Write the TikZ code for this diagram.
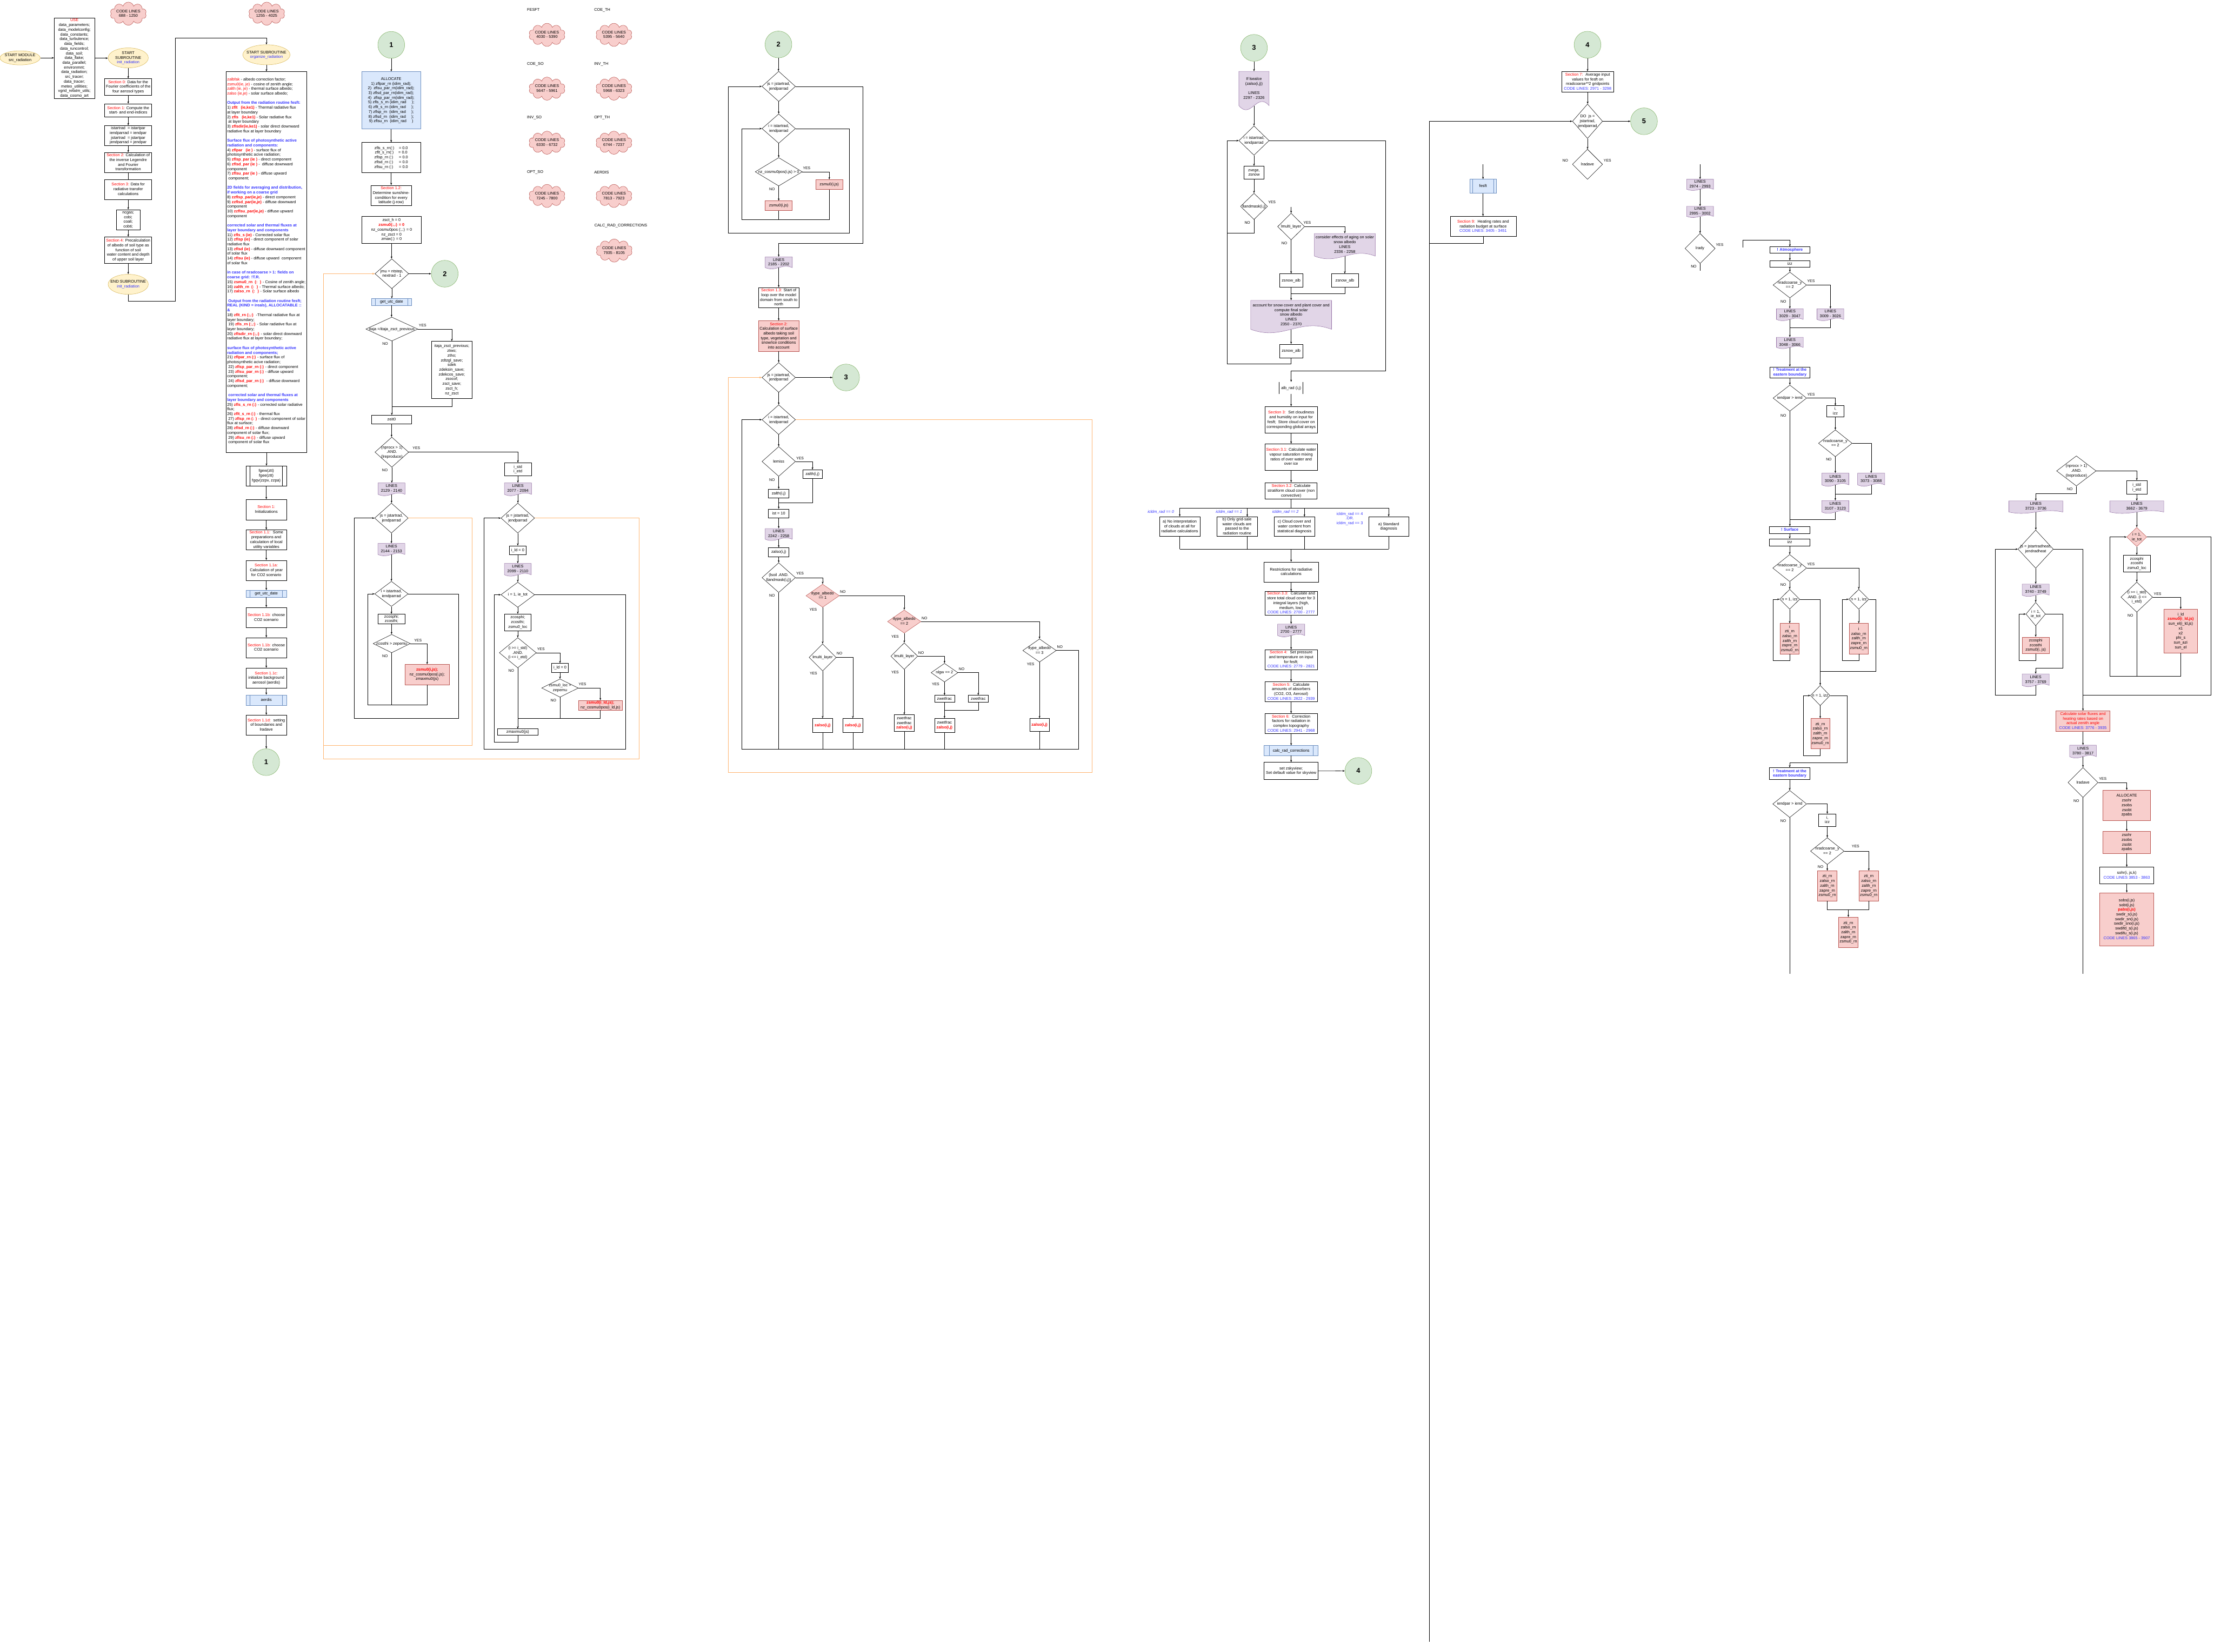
\documentclass[tikz,border=0pt]{standalone}
\usepackage{fontspec}
\setmainfont{Liberation Sans}
\usetikzlibrary{shapes.geometric,shapes.symbols,arrows.meta}
\definecolor{ellF}{HTML}{FFF2CC}\definecolor{ellD}{HTML}{D6B656}
\definecolor{redF}{HTML}{F8CECC}\definecolor{redD}{HTML}{B85450}
\definecolor{blueF}{HTML}{DAE8FC}\definecolor{blueD}{HTML}{6C8EBF}
\definecolor{purF}{HTML}{E1D5E7}\definecolor{purD}{HTML}{9673A6}
\definecolor{grnF}{HTML}{D5E8D4}\definecolor{grnD}{HTML}{82B366}
\definecolor{orgC}{HTML}{FFB570}
\definecolor{secred}{HTML}{FF0000}
\definecolor{tblue}{HTML}{3333FF}
\newcommand\dt[1]{\smash{\makebox[0pt]{\raisebox{-2.4pt}{\begin{tabular}{@{}c@{}}#1\end{tabular}}}}}
\newcommand\sred[1]{\textcolor{secred}{#1}}
\newcommand\srb[1]{\textcolor{secred}{\bfseries #1}}
\newcommand\tb[1]{\textcolor{tblue}{#1}}
\newcommand\hb[1]{\textcolor{tblue}{\bfseries #1}}
\newcommand\ib[1]{\textcolor{tblue}{\itshape #1}}
\newcommand\docsh[6]{%
 \pgfmathsetmacro\dxL{#2-#4/2}\pgfmathsetmacro\dxR{#2+#4/2}%
 \pgfmathsetmacro\dyT{#3-#5/2}\pgfmathsetmacro\dyE{#3+#5/2-0.14*#5}%
 \pgfmathsetmacro\cAx{#2-0.1*#4}\pgfmathsetmacro\cAy{#3+#5/2+0.22*#5}%
 \pgfmathsetmacro\cBx{#2+0.1*#4}\pgfmathsetmacro\cBy{#3+#5/2-0.5*#5}%
 \pgfmathsetmacro\dyC{#3-0.07*#5}\pgfmathsetmacro\dhh{0.86*#5}%
 \filldraw[docst] (\dxL,\dyT) -- (\dxR,\dyT) -- (\dxR,\dyE) .. controls (\cBx,\cBy) and (\cAx,\cAy) .. (\dxL,\dyE) -- cycle;
 \node[docn={#4}{\dhh}] (#1) at (#2,\dyC) {\dt{#6}};}
\newcommand\sublines[3][black]{\draw[#1] ([xshift=#3mm]#2.north west) -- ([xshift=#3mm]#2.south west);\draw[#1] ([xshift=-#3mm]#2.north east) -- ([xshift=-#3mm]#2.south east);}
\newcommand\vc[2]{\draw[ar] (#1.south) -- (#1.south |- #2.north);}
\newcommand\vl[2]{\draw (#1.south) -- (#1.south |- #2.north);}
\tikzset{
 base/.style={font=\fontsize{8}{9.5}\selectfont, inner sep=0pt},
 bx/.style 2 args={base, draw, rectangle, minimum width=#1mm, minimum height=#2mm},
 rbx/.style 2 args={bx={#1}{#2}, draw=redD, fill=redF},
 bbx/.style 2 args={bx={#1}{#2}, draw=blueD, fill=blueF},
 dia/.style 2 args={base, draw, diamond, minimum width=#1mm, minimum height=#2mm},
 rdia/.style 2 args={dia={#1}{#2}, draw=redD, fill=redF},
 ell/.style 2 args={base, draw=ellD, fill=ellF, ellipse, minimum width=#1mm, minimum height=#2mm},
 circ/.style={base, circle, draw=grnD, fill=grnF, minimum size=19mm, font=\fontsize{14}{15}\selectfont\bfseries},
 cld/.style={base, cloud, cloud puffs=10, aspect=1.6, draw=redD, fill=redF, minimum width=25.7mm, minimum height=16.4mm},
 docn/.style 2 args={base, minimum width=#1mm, minimum height=#2mm},
 docst/.style={draw=purD, fill=purF},
 yn/.style={base, font=\fontsize{7.5}{9}\selectfont},
 ttl/.style={base, anchor=west},
 ar/.style={draw, -{Stealth[length=1.6mm,width=1.2mm]}},
 org/.style={draw=orgC, line width=1.1pt},
}
\begin{document}
\begin{tikzpicture}[x=1mm,y=-1mm,line width=0.6pt]
\fill[white] (0,0) rectangle (1568,1170);
\useasboundingbox (0,0) rectangle (1568,1170);
%================ column 0 : init_radiation
\node[ell={28.5}{10}] (startmod) at (14.2,41) {\dt{START MODULE\\src\_radiation}};
\node[bx={28.7}{57.2}] (use) at (52.7,41.2) {\dt{\sred{USE}\\data\_parameters;\\data\_modelconfig;\\data\_constants;\\data\_turbulence;\\data\_fields;\\data\_runcontrol;\\data\_soil;\\data\_flake;\\data\_parallel;\\environmnt;\\data\_radiation;\\src\_tracer;\\data\_tracer;\\meteo\_utilities;\\vgrid\_refatm\_utils;\\data\_cosmo\_art}};
\node[cld] (cla) at (90.9,9.7) {\dt{CODE LINES\\688 - 1250}};
\node[cld] (clb) at (188.9,9.7) {\dt{CODE LINES\\1255 - 4025}};
\node[ell={28.5}{14.2}] (initS) at (90.8,41) {\dt{START\\SUBROUTINE\\\tb{init\_radiation}}};
\node[bx={33.3}{11.7}] (szero) at (90.8,61.5) {\dt{\sred{Section 0:} Data for the\\Fourier coefficients of the\\four aerosol types}};
\node[bx={33.3}{9.4}] (sone) at (90.8,78.2) {\dt{\sred{Section 1:} Compute the\\start- and end-indices}};
\node[bx={33.3}{14.2}] (ist) at (90.8,96) {\dt{istartrad \ = istartpar\\iendparrad = iendpar\\jstartrad \ = jstartpar\\jendparrad = jendpar}};
\node[bx={33.3}{14.2}] (stwo) at (90.8,115.1) {\dt{\sred{Section 2:} Calculation of\\the inverse Legendre\\and Fourier\\transformation}};
\node[bx={33.3}{14.2}] (sthree) at (90.8,134.2) {\dt{\sred{Section 3:} Data for\\radiative transfer\\calculations}};
\node[bx={16.7}{14.3}] (ncg) at (90.8,155.6) {\dt{ncgas;\\cobi;\\coali;\\cobti;}};
\node[bx={33.3}{18.9}] (sfour) at (90.8,177.2) {\dt{\sred{Section 4:} Precalculation\\of albedo of soil type as\\function of soil\\water content and depth\\of upper soil layer}};
\node[ell={28.5}{14.2}] (initE) at (90.8,201.4) {\dt{END SUBROUTINE\\\tb{init\_radiation}}};
\draw[ar] (startmod.east) -- (startmod.east -| use.west);
\draw[ar] (use.east) -- (use.east -| initS.west);
\vc{initS}{szero}\vc{szero}{sone}\vc{sone}{ist}\vc{ist}{stwo}\vl{stwo}{sthree}\vc{sthree}{ncg}\vc{ncg}{sfour}\vc{sfour}{initE}
%================ column 1 : organize_radiation
\node[ell={33.5}{14.2}] (orgS) at (188.7,38.8) {\dt{START SUBROUTINE\\\tb{organize\_radiation}}};
\draw[ar] (initE.south) -- (90.8,213.2) -- (124.2,213.2) -- (124.2,26.8) -- (188.7,26.8) -- (orgS.north);
\node[bx={57.2}{269.8}] (big) at (188.7,185.6) {};
\node[base, align=left, anchor=north west] (bigtxt) at (160.8,55.0) {%
\sred{zalbfak} - albedo correction factor;\\
\sred{zsmu0(ie, je)} - cosine of zenith angle;\\
\sred{zalth (ie, je)} - thermal surface albedo;\\
\sred{zalso (ie,je)} - solar surface albedo;\\[9.5pt]
\hb{Output from the radiation routine fesft:}\\
1) \srb{zflt \ \ (ie,ke1)} - Thermal radiative flux\\
at layer boundary\\
2) \srb{zfls \ \ (ie,ke1)} - Solar radiative flux\\
\ at layer boundary\\
3) \srb{zflsdir(ie,ke1)} - solar direct downward\\
radiative flux at layer boundary\\[9.5pt]
\hb{Surface flux of photosynthetic active}\\
\hb{radiation and components:}\\
4) \srb{zflpar \ \ (ie )} - surface flux of\\
photosynthetic acive radiation;\\
5) \srb{zflsp\_par (ie )} - direct component\\
6) \srb{zflsd\_par (ie )} - \ diffuse downward\\
component\\
7) \srb{zflsu\_par (ie )} - diffuse upward\\
\ component;\\[9.5pt]
\hb{2D fields for averaging and distribution,}\\
\hb{if working on a coarse grid}\\
8) \srb{zzflsp\_par(ie,je)} - direct component\\
9) \srb{zzflsd\_par(ie,je)} - diffuse downward\\
component\\
10) \srb{zzflsu\_par(ie,je)} - diffuse upward\\
component\\[9.5pt]
\hb{corrected solar and thermal fluxes at}\\
\hb{layer boundary and components}\\
11) \srb{zfls\_s (ie)} - Corrected solar flux\\
12) \srb{zflsp (ie)} - direct component of solar\\
radiative flux\\
13) \srb{zflsd (ie)} - diffuse downward component\\
of solar flux\\
14) \srb{zflsu (ie)} - diffuse upward \ component\\
of solar flux\\[9.5pt]
\hb{in case of nradcoarse > 1: fields on}\\
\hb{coarse grid: !T.R.}\\
15) \srb{zsmu0\_rn \ (: \ )} - Cosine of zenith angle;\\
16) \srb{zalth\_rn \ (: \ )} - Thermal surface albedo;\\
17) \srb{zalso\_rn \ (: \ )} - Solar surface albedo\\[9.5pt]
\ \hb{Output from the radiation routine fesft;}\\
\hb{REAL (KIND = ireals), ALLOCATABLE ::}\\
\hb{\&}\\
18) \srb{zflt\_rn (:,:)} \ -Thermal radiative flux at\\
layer boundary;\\
\ 19) \srb{zfls\_rn (:,:)} - Solar radiative flux at\\
layer boundary;\\
20) \srb{zflsdir\_rn (:,:)} - solar direct downward\\
radiative flux at layer boundary;\\[9.5pt]
\hb{surface flux of photosynthetic active}\\
\hb{radiation and components;}\\
21) \srb{zflpar\_rn (:)} - surface flux of\\
photosynthetic acive radiation;\\
\ 22) \srb{zflsp\_par\_rn (:)} - direct component\\
\ 23) \srb{zflsu\_par\_rn (:)} - diffuse upward\\
component;\\
\ 24) \srb{zflsd\_par\_rn (:)} \ - diffuse downward\\
component;\\[9.5pt]
\ \hb{corrected solar and thermal fluxes at}\\
\hb{layer boundary and components}\\
25) \srb{zfls\_s\_rn (:)} - corrected solar radiative\\
flux;\\
26) \srb{zflt\_s\_rn (:)} - thermal flux\\
\ 27) \srb{zflsp\_rn (: )} - direct component of solar\\
flux at surface;\\
28) \srb{zflsd\_rn (:)} - diffuse downward\\
component of solar flux;\\
\ 29) \srb{zflsu\_rn (:)} - diffuse upward\\
\ component of solar flux};
\vc{orgS}{big}
\node[bx={28.6}{14.2}] (fgew) at (188.6,337.1) {\dt{fgew(ztt)\\fgee(ztt)\\fgqv(zzpv, zzpa)}};
\sublines{fgew}{2.9}
\node[bx={28.6}{14.4}] (sinit) at (188.6,361) {\dt{\sred{Section 1:}\\Initializations}};
\node[bx={28.6}{14.2}] (sprep) at (188.6,382.4) {\dt{\sred{Section 1.1:} \ Some\\preparations and\\calculation of local\\utility variables}};
\node[bx={28.6}{14.2}] (syear) at (188.6,404) {\dt{\sred{Section 1.1a:}\\Calculation of year\\for CO2 scenario}};
\node[bbx={28.6}{4.8}] (gudA) at (188.6,420.6) {\dt{get\_utc\_date}};
\sublines[blueD]{gudA}{2.9}
\node[bx={28.6}{14.2}] (scoA) at (188.6,437.4) {\dt{\sred{Section 1.1b:} choose\\CO2 scenario}};
\node[bx={28.6}{14.2}] (scoB) at (188.6,458.8) {\dt{\sred{Section 1.1b:} choose\\CO2 scenario}};
\node[bx={28.6}{14.2}] (saer) at (188.6,480.3) {\dt{\sred{Section 1.1c:}\\initialize background\\aerosol (aerdis)}};
\node[bbx={28.6}{7.3}] (aer) at (188.6,495.9) {\dt{aerdis}};
\sublines[blueD]{aer}{2.9}
\node[bx={28.6}{14.2}] (sbnd) at (188.6,513.6) {\dt{\sred{Section 1.1d:} \ setting\\of boundaries and\\lradave}};
\node[circ] (conea) at (188.5,539.9) {1};
\vc{big}{fgew}\vc{fgew}{sinit}\vc{sinit}{sprep}\vc{sprep}{syear}\vc{syear}{gudA}\vc{gudA}{scoA}\vc{scoA}{scoB}\vc{scoB}{saer}\vc{saer}{aer}\vc{aer}{sbnd}\vc{sbnd}{conea}
%================ column 2 : section 1.2
\node[circ] (coneb) at (277.1,31.8) {1};
\node[bbx={41.5}{40.5}] (alloc) at (277.05,71) {\dt{ALLOCATE\\1) zflpar\_rn (idim\_rad);\\2) \ zflsu\_par\_rn(idim\_rad);\\3) zflsd\_par\_rn(idim\_rad);\\4) \ zflsp\_par\_rn(idim\_rad);\\5) zfls\_s\_rn (idim\_rad \ \ \ \ );\\6) zflt\_s\_rn (idim\_rad \ \ \ \ );\\7) zflsp\_rn \ (idim\_rad \ \ \ \ );\\8) zflsd\_rn \ (idim\_rad \ \ \ \ );\\9) zflsu\_rn \ (idim\_rad \ \ \ \ )}};
\node[bx={41.5}{21.3}] (zfls) at (277.05,111.6) {\dt{zfls\_s\_rn(:) \ \ \ = 0.0\\zflt\_s\_rn(:) \ \ \ = 0.0\\zflsp\_rn (:) \ \ \ \ = 0.0\\zflsd\_rn (:) \ \ \ \ = 0.0\\zflsu\_rn (:) \ \ \ \ = 0.0}};
\node[bx={28.6}{14.3}] (stwelve) at (277.05,138.4) {\dt{\sred{Section 1.2:}\\Determine sunshine-\\condition for every\\latitude (j-row)}};
\node[bx={42.2}{19.2}] (zsct) at (277.3,162.8) {\dt{zsct\_h = 0\\\srb{zsmu0(:,:) = 0}\\nz\_cosmu0pos (:,:) = 0\\nz\_zsct = 0\\zmax(:) = 0}};
\node[dia={23.9}{21.1}] (jmu) at (277.5,193.9) {\dt{jmu = ntstep,\\nextrad - 1}};
\node[circ] (ctwoa) at (315,193.9) {2};
\node[bbx={28.6}{4.9}] (gudB) at (277.3,213.9) {\dt{get\_utc\_date}};
\sublines[blueD]{gudB}{2.9}
\node[dia={36.8}{16.9}] (itaja) at (277.5,233.1) {\dt{itaja =/itaja\_zsct\_previous}};
\node[bx={28.8}{40.5}] (itbox) at (320,262) {\dt{itaja\_zsct\_previous;\\ztwo;\\ztho;\\zdtzgl\_save;\\sdek\\zdeksin\_save;\\zdekcos\_save;\\zsocof;\\zsct\_save;\\zsct\_h;\\nz\_zsct}};
\node[bx={28.6}{6}] (zeit) at (277.3,297.1) {\dt{zeit0}};
\node[dia={23.9}{21.3}] (npx) at (277.5,320.3) {\dt{(nprocx > 1)\\.AND.\\(lreproduce)}};
\node[bx={19.1}{9.2}] (istd) at (366.8,332.4) {\dt{i\_std\\i\_etd}};
\docsh{Lta}{277.3}{346.8}{19.2}{9.4}{LINES\\2129 - 2140}
\docsh{Ltb}{366.8}{346.8}{19.2}{9.4}{LINES\\2077 - 2094}
\node[dia={23.8}{21.2}] (jsA) at (277.2,367) {\dt{js = jstartrad,\\jendparrad}};
\docsh{Ltc}{277.2}{389.5}{19.2}{9.1}{LINES\\2144 - 2153}
\node[dia={23.7}{17.8}] (iA) at (277.2,420.7) {\dt{i = istartrad,\\iendparrad}};
\node[bx={19.1}{7.1}] (zcA) at (277.3,438.5) {\dt{zcosphi;\\zcosthi;}};
\node[dia={26.3}{13}] (zcdA) at (277.4,455.9) {\dt{zcosthi > zepemu}};
\node[rbx={31.1}{14.3}] (rA) at (302.5,477.8) {\dt{\srb{zsmu0(i,js);}\\nz\_cosmu0pos(i,js);\\zmaxmu0(js)}};
\node[dia={23.8}{21.2}] (jsB) at (366.7,367) {\dt{js = jstartrad,\\jendparrad}};
\node[bx={11.9}{6.2}] (ildA) at (366.7,389.7) {\dt{i\_ld = 0}};
\docsh{Ltd}{366.7}{403.8}{19}{9.3}{LINES\\2099 - 2110}
\node[dia={23.8}{17.8}] (iB) at (366.7,421.3) {\dt{i = 1, ie\_tot}};
\node[bx={19}{11.7}] (zcB) at (366.7,440.8) {\dt{zcosphi;\\zcosthi;\\zsmu0\_loc}};
\node[dia={26.2}{21.4}] (istdd) at (366.7,462.4) {\dt{(i >= i\_std)\\.AND.\\(i <= i\_etd)}};
\node[bx={11.9}{6.4}] (ildB) at (396.6,473.1) {\dt{i\_ld = 0}};
\node[dia={25.9}{12.9}] (zlocd) at (396.6,487.4) {\dt{zsmu0\_loc >\\zepemu}};
\node[rbx={30.9}{6.9}] (rB) at (425.2,499.6) {\dt{\srb{zsmu0(i\_ld,js);}\\nz\_cosmu0pos(i\_ld,js)}};
\node[bx={28.6}{4.6}] (zmx) at (366.7,518.6) {\dt{zmaxmu0(js)}};
\vc{coneb}{alloc}\vc{alloc}{zfls}\vc{zfls}{stwelve}\vc{zsct}{jmu}
\draw[ar] (jmu.east) -- (ctwoa.west);
\vc{jmu}{gudB}\vc{gudB}{itaja}
\draw[ar] (itaja.east) -| (itbox.north);
\vc{itaja}{zeit}
\draw (itbox.south) |- (277.5,288.1);
\vc{zeit}{npx}
\draw[ar] (npx.east) -| (istd.north);
\vc{npx}{Lta}\vc{istd}{Ltb}\vc{Lta}{jsA}\vc{Ltb}{jsB}
\vc{jsA}{Ltc}\vc{Ltc}{iA}\vc{iA}{zcA}\vc{zcA}{zcdA}
\draw[ar] (zcdA.east) -| (rA.north);
\draw (zcdA.south) -- (277.4,499.4);
\draw[ar] (rA.south) -- (302.5,499.4) -- (260.3,499.4) -- (260.3,420.7) -- (iA.west);
\draw[ar] (iA.east) -- (324.6,420.7) -- (324.6,508.9) -- (250.7,508.9) -- (250.7,367) -- (jsA.west);
\vc{jsB}{ildA}\vc{ildA}{Ltd}\vc{Ltd}{iB}\vc{iB}{zcB}\vc{zcB}{istdd}
\draw[ar] (istdd.east) -| (ildB.north);
\vc{ildB}{zlocd}
\draw[ar] (zlocd.east) -| (rB.north);
\draw (zlocd.south) -- (396.6,508.9);
\draw (rB.south) -- (425.2,508.9) -- (366.7,508.9);
\vc{istdd}{zmx}
\draw[ar] (zmx.south) -- (366.7,525.8) -- (349.9,525.8) -- (349.9,421.3) -- (iB.west);
\draw[ar] (iB.east) -- (443.1,421.3) -- (443.1,530.5) -- (342.9,530.5) -- (342.9,367) -- (jsB.west);
\draw[org,-{Stealth[length=1.8mm,width=1.4mm]}] (229.1,193.9) -- (jmu.west);
\draw[org] (229.1,193.9) -- (229.1,537.6) -- (452.6,537.6) -- (452.6,367) -- (jsB.east);
\draw[org] (jsA.east) -- (334.4,367) -- (334.4,528.1) -- (229.1,528.1);
\node[yn] at (299.3,230.6) {YES};\node[yn] at (272.8,243.6) {NO};
\node[yn] at (294.9,317.5) {YES};\node[yn] at (272.6,332.9) {NO};
\node[yn] at (296,453.5) {YES};\node[yn] at (272.7,464.6) {NO};
\node[yn] at (383.1,459.9) {YES};\node[yn] at (362.1,475.3) {NO};
\node[yn] at (412.5,484.8) {YES};\node[yn] at (391.9,496.3) {NO};
%================ cloud labels
\node[ttl] at (373.2,7) {FESFT};\node[ttl] at (420.7,7) {COE\_TH};
\node[ttl] at (373.2,45.6) {COE\_SO};\node[ttl] at (420.7,45.6) {INV\_TH};
\node[ttl] at (373.2,83.3) {INV\_SO};\node[ttl] at (420.7,83.3) {OPT\_TH};
\node[ttl] at (373.2,122) {OPT\_SO};\node[ttl] at (420.7,122) {AERDIS};
\node[ttl] at (420.9,159.8) {CALC\_RAD\_CORRECTIONS};
\node[cld] (clc) at (387.4,24.7) {\dt{CODE LINES\\4030 - 5390}};
\node[cld] (cld) at (434.8,24.7) {\dt{CODE LINES\\5395 - 5640}};
\node[cld] (cle) at (387.4,62.8) {\dt{CODE LINES\\5647 - 5961}};
\node[cld] (clf) at (434.8,62.8) {\dt{CODE LINES\\5968 - 6323}};
\node[cld] (clg) at (387.4,101.1) {\dt{CODE LINES\\6330 - 6732}};
\node[cld] (clh) at (434.8,101.1) {\dt{CODE LINES\\6744 - 7237}};
\node[cld] (cli) at (387.4,138.8) {\dt{CODE LINES\\7245 - 7800}};
\node[cld] (clj) at (434.8,138.8) {\dt{CODE LINES\\7813 - 7923}};
\node[cld] (clk) at (435,177.5) {\dt{CODE LINES\\7935 - 8105}};
%================ column 3 : section 1.3 / 2
\node[circ] (ctwob) at (551.3,31.5) {2};
\node[dia={23.7}{21.4}] (jsC) at (551.5,61.2) {\dt{js = jstartrad,\\jendparrad}};
\node[dia={23.7}{20.8}] (iC) at (551.5,91.1) {\dt{i = istartrad,\\iendparrad}};
\node[dia={33.3}{20.1}] (nzd) at (551.5,121.7) {\dt{nz\_cosmu0pos(i,js) > 0}};
\node[rbx={19.2}{7}] (rCa) at (587.3,130.7) {\dt{zsmu0(i,js)}};
\node[rbx={19.2}{6.8}] (rCb) at (551.5,145.7) {\dt{zsmu0(i,js)}};
\vc{ctwob}{jsC}\vc{jsC}{iC}\vc{iC}{nzd}
\draw[ar] (nzd.east) -| (rCa.north);
\vc{nzd}{rCb}
\draw (rCb.south) -- (551.5,155.6);
\draw[ar] (rCa.south) -- (587.3,155.6) -- (525.2,155.6) -- (525.2,91.1) -- (iC.west);
\draw[ar] (iC.east) -- (601.6,91.1) -- (601.6,165.2) -- (515.7,165.2) -- (515.7,61.2) -- (jsC.west);
\docsh{Lte}{551.5}{186.4}{19.2}{8.8}{LINES\\2185 - 2202}
\draw[ar] (jsC.east) -- (611.1,61.2) -- (611.1,172.4) -- (551.5,172.4) -- (Lte.north);
\node[yn] at (571.3,119.2) {YES};\node[yn] at (546.8,134) {NO};
\node[bx={28.7}{14.3}] (sthirt) at (551.5,210.8) {\dt{\sred{Section 1.3:} Start of\\loop over the model\\domain from south to\\north}};
\node[rbx={28.7}{21.6}] (salb) at (551.5,238) {\dt{\sred{Section 2:}\\Calculation of surface\\albedo taking soil\\type, vegetation and\\snow/ice conditions\\into account}};
\node[dia={23.7}{21.1}] (jsD) at (551.5,267.4) {\dt{js = jstartrad,\\jendparrad}};
\node[circ] (cthreea) at (599.2,267.4) {3};
\node[dia={23.7}{21.1}] (iD) at (551.5,297.3) {\dt{i = istartrad,\\iendparrad}};
\node[dia={23.7}{21.1}] (lem) at (551.5,326.9) {\dt{lemiss}};
\node[bx={14}{6.3}] (zthR) at (575.4,335.9) {\dt{zalth(i,j)}};
\node[bx={14.5}{6.3}] (zthB) at (551.5,349.6) {\dt{zalth(i,j)}};
\node[bx={14.5}{6.3}] (isten) at (551.5,363.7) {\dt{ist = 10}};
\docsh{Ltf}{551.5}{378.8}{19.2}{8.8}{LINES\\2242 - 2258}
\node[bx={14.5}{6.3}] (zso) at (551.5,391.1) {\dt{zalso(i,j)}};
\node[dia={23.7}{21.1}] (lsoil) at (551.5,409.2) {\dt{(lsoil .AND.\\llandmask(i,j))}};
\node[rdia={23.6}{16.4}] (itA) at (582.6,422) {\dt{itype\_albedo\\== 1}};
\node[rdia={23.7}{16.4}] (itB) at (640.4,440.3) {\dt{itype\_albedo\\== 2}};
\node[dia={23.7}{16.4}] (itC) at (736.2,460.8) {\dt{itype\_albedo\\== 3}};
\node[dia={19.2}{19.2}] (lmA) at (582.6,465.7) {\dt{lmulti\_layer}};
\node[dia={19}{18.8}] (lmB) at (640.4,464.8) {\dt{lmulti\_layer}};
\node[dia={19}{13.2}] (nlgw) at (668.9,476.5) {\dt{nlgw == 2}};
\node[bx={14.2}{4.9}] (zwA) at (668.9,495) {\dt{zwetfrac}};
\node[bx={14.2}{4.9}] (zwB) at (692.8,495) {\dt{zwetfrac}};
\node[bx={14.2}{9.8}] (zaA) at (582.6,513.8) {\dt{\srb{zalso(i,j)}}};
\node[bx={14.2}{9.8}] (zaB) at (604,513.8) {\dt{\srb{zalso(i,j)}}};
\node[bx={14.2}{11.9}] (zaC) at (640.4,512.2) {\dt{zwetfrac\\zwetfrac\\\srb{zalso(i,j)}}};
\node[bx={14.2}{9.8}] (zaD) at (668.9,513.8) {\dt{zwetfrac\\\srb{zalso(i,j)}}};
\node[bx={14}{9.2}] (zaE) at (736.2,513.5) {\dt{\srb{zalso(i,j)}}};
\vc{Lte}{sthirt}\vc{sthirt}{salb}\vc{salb}{jsD}
\draw[ar] (jsD.east) -- (cthreea.west);
\vc{jsD}{iD}\vc{iD}{lem}
\draw[ar] (lem.east) -| (zthR.north);
\vc{lem}{zthB}
\draw (zthR.south) |- (551.5,356.05);
\vc{zthB}{isten}\vc{isten}{Ltf}\vc{Ltf}{zso}\vc{zso}{lsoil}
\draw[ar] (lsoil.east) -| (itA.north);
\draw[ar] (itA.east) -| (itB.north);
\draw[ar] (itB.east) -| (itC.north);
\draw (itC.east) -- (763.9,460.8) -- (763.9,530.5);
\vc{itA}{lmA}\vc{itB}{lmB}\vc{itC}{zaE}
\draw[ar] (lmA.east) -| (zaB.north);
\vc{lmA}{zaA}
\draw[ar] (lmB.east) -| (nlgw.north);
\vc{lmB}{zaC}
\draw[ar] (nlgw.east) -| (zwB.north);
\vc{nlgw}{zwA}
\draw (zwB.south) |- (668.9,503);
\vc{zwA}{zaD}
\draw (lsoil.south) -- (551.5,530.5);
\foreach \nn in {zaA,zaB,zaC,zaD,zaE} {\draw (\nn.south) -- (\nn.south |- 0,530.5);}
\draw (763.9,530.5) -- (525.2,530.5);
\draw[ar] (525.2,530.5) -- (525.2,297.3) -- (iD.west);
\draw[org] (iD.east) -- (773.4,297.3) -- (773.4,547.1) -- (515.7,547.1) -- (515.7,267.4);
\draw[org,-{Stealth[length=1.8mm,width=1.4mm]}] (515.7,267.4) -- (jsD.west);
\node[yn] at (566.6,324.7) {YES};\node[yn] at (546.8,340) {NO};
\node[yn] at (566.6,406.2) {YES};\node[yn] at (546.8,422) {NO};
\node[yn] at (596.9,419.4) {NO};\node[yn] at (575.9,431.8) {YES};
\node[yn] at (654.7,438) {NO};\node[yn] at (633.9,451) {YES};
\node[yn] at (750.6,458.4) {NO};\node[yn] at (729.9,470.6) {YES};
\node[yn] at (594.5,462.9) {NO};\node[yn] at (576.1,477.2) {YES};
\node[yn] at (652.3,462.3) {NO};\node[yn] at (633.9,476.3) {YES};
\node[yn] at (681,474) {NO};\node[yn] at (662.6,484.8) {YES};
%================ column 4 : section 3..6
\node[circ] (cthreeb) at (888.1,33.9) {3};
\docsh{Lsea}{888.1}{64.7}{21.4}{28.2}{If lsealce\\(zalso(i,j))\\ \\LINES\\2297 - 2326}
\node[dia={21.4}{20.8}] (iE) at (888.1,99.6) {\dt{i = istartrad,\\iendparrad}};
\node[bx={14.2}{9.3}] (zveg) at (888.1,122.3) {\dt{zvege,\\zsnow}};
\node[dia={19.1}{18.6}] (lmask) at (888.1,146.2) {\dt{llandmask(i,j)}};
\node[dia={19.1}{18.9}] (lmC) at (914.4,160.5) {\dt{lmulti\_layer}};
\docsh{Lcons}{952.4}{174.7}{43.1}{18.6}{consider effects of aging on solar\\snow albedo\\LINES\\2336 - 2258}
\node[bx={19.1}{9.6}] (zsaR) at (952.4,198.7) {\dt{zsnow\_alb}};
\node[bx={16.6}{9.6}] (zsaL) at (914.4,198.7) {\dt{zsnow\_alb}};
\docsh{Lacc}{914.4}{224.7}{57.3}{23.8}{account for snow cover and plant cover and\\compute final solar\\snow albedo\\LINES\\2350 - 2370}
\node[bx={16.6}{9.6}] (zsaB) at (914.4,248.6) {\dt{zsnow\_alb}};
\node[base, minimum width=16.6mm, minimum height=8.5mm] (alb) at (914.4,274.9) {\dt{alb\_rad (i,j)}};
\draw (alb.north west) -- (alb.south west); \draw (alb.north east) -- (alb.south east);
\node[bx={37}{18.9}] (scld) at (914.4,297.4) {\dt{\sred{Section 3:} \ Set cloudiness\\and humidity on input for\\fesft; \ Store cloud cover on\\corresponding global arrays}};
\node[bx={37}{18.6}] (svap) at (914.4,323.7) {\dt{\sred{Section 3.1:} Calculate water\\vapour saturation mixing\\ratios of over water and\\over ice}};
\node[bx={36.7}{11.8}] (sstr) at (914.4,347.7) {\dt{\sred{Section 3.2:} Calculate\\stratiform cloud cover (non\\convective)}};
\node[bx={28.6}{14}] (cca) at (835.5,373) {\dt{a) No interpretation\\of clouds at all for\\radiative calculations}};
\node[bx={28.6}{14}] (ccb) at (876.1,373) {\dt{b) Only grid-sale\\water clouds are\\passed to the\\radiation routine}};
\node[bx={28.6}{14}] (ccc) at (916.7,373) {\dt{c) Cloud cover and\\water content from\\statistical diagnosis}};
\node[bx={28.6}{14}] (ccd) at (983.5,373) {\dt{a) Standard\\diagnosis}};
\node[base] at (822.1,362.7) {\ib{icldm\_rad == 0}};
\node[base] at (870.4,362.7) {\ib{icldm\_rad == 1}};
\node[base] at (910.4,362.7) {\ib{icldm\_rad == 2}};
\node[base] at (955.9,367.4) {\dt{\tb{icldm\_rad == 4}\\\tb{.OR.}\\\tb{icldm\_rad == 3}}};
\node[bx={38.5}{14.2}] (rest) at (914.4,405.2) {\dt{Restrictions for radiative\\calculations}};
\node[bx={37.2}{16.7}] (stot) at (914.4,427.3) {\dt{\sred{Section 3.3:} \ Calculate and\\store total cloud cover for 3\\integral layers (high,\\medium, low)\\\tb{CODE LINES: 2700 - 2777}}};
\docsh{Ltg}{914.4}{446.8}{19.2}{9.4}{LINES\\2700 - 2777}
\node[bx={37.2}{14.3}] (sprs) at (914.4,467.3) {\dt{\sred{Section 4:} \ Set pressure\\and temperature on input\\for fesft;\\\tb{CODE LINES: 2779 - 2821}}};
\node[bx={37.2}{14.3}] (sabs) at (914.4,490) {\dt{\sred{Section 5:} \ Calculate\\amounts of absorbers\\(CO2, O3, Aerosol)\\\tb{CODE LINES: 2822 - 2939}}};
\node[bx={37.2}{14.3}] (stop) at (914.4,512.6) {\dt{\sred{Section 6:} \ Correction\\factors for radiation in\\complex topography\\\tb{CODE LINES: 2941 - 2968}}};
\node[bbx={38.2}{7.1}] (crc) at (914.4,531.7) {\dt{calc\_rad\_corrections}};
\sublines[blueD]{crc}{3.8}
\node[bx={38.2}{11.9}] (skv) at (914.4,546) {\dt{set zskyview;\\Set default value for skyview}};
\node[circ] (cfoura) at (962,546.1) {4};
\vc{cthreeb}{Lsea}\vc{Lsea}{iE}\vc{iE}{zveg}\vc{zveg}{lmask}
\draw (lmask.south) -- (888.1,165.1) -- (869,165.1);
\draw[ar] (869,257.7) -- (869,99.6) -- (iE.west);
\coordinate (lmfree) at (914.4,146.7);
\draw[ar] (lmfree) -- (lmC.north);
\draw[ar] (lmC.east) -| (Lcons.north);
\vc{lmC}{zsaL}\vc{Lcons}{zsaR}
\draw (zsaR.south) |- (914.4,208.1);
\vc{zsaL}{Lacc}\vc{Lacc}{zsaB}
\draw (zsaB.south) -- (914.4,257.7) -- (869,257.7);
\draw[ar] (iE.east) -- (981.2,99.6) -- (981.2,262.9) -- (914.4,262.9) -- (alb.north);
\vc{alb}{scld}\vc{scld}{svap}\vc{svap}{sstr}
\draw (sstr.south) -- (914.4,359.9);
\draw (835.5,359.9) -- (983.5,359.9);
\draw[ar] (835.5,359.9) -- (cca.north);
\draw[ar] (883.3,359.9) -- (883.3,366);
\draw[ar] (923.8,359.9) -- (923.8,366);
\draw[ar] (983.5,359.9) -- (ccd.north);
\draw (cca.south) -- (835.5,389); \draw (883.3,380) -- (883.3,389);
\draw (923.8,380) -- (923.8,389); \draw (ccd.south) -- (983.5,389);
\draw (835.5,389) -- (983.5,389);
\draw[ar] (914.4,389) -- (rest.north);
\vc{rest}{stot}\vc{stot}{Ltg}\vc{Ltg}{sprs}\vc{sprs}{sabs}\vc{sabs}{stop}\vc{stop}{crc}\vc{crc}{skv}
\draw[ar] (skv.east) -- (cfoura.west);
\node[yn] at (900.8,143.2) {YES};\node[yn] at (883.4,157.7) {NO};
\node[yn] at (925.8,157.7) {YES};\node[yn] at (909.6,172.2) {NO};
%================ column 5 : sections 7..9
\node[circ] (cfourb) at (1124.3,31.7) {4};
\node[bx={36.9}{14.6}] (savg) at (1124.4,57.9) {\dt{\sred{Section 7:} \ Average input\\values for fesft on\\nradcoarse**2 gridpoints\\\tb{CODE LINES: 2971 - 3298}}};
\node[dia={21.3}{24.4}] (dojs) at (1124.3,85.9) {\dt{DO \ js =\\jstartrad,\\jendparrad}};
\node[circ] (cfivea) at (1164.3,85.9) {5};
\node[dia={21.3}{21.3}] (lrad) at (1124.3,116.4) {\dt{lradave}};
\node[bbx={19}{9.8}] (fesft) at (1050.3,131.9) {\dt{fesft}};
\sublines[blueD]{fesft}{2}
\node[bx={46.6}{14.3}] (sheat) at (1050.4,160.4) {\dt{\sred{Section 9:} \ Heating rates and\\radiation budget at surface\\\tb{CODE LINES: 3405 - 3451}}};
\docsh{Lth}{1204}{131.1}{19}{8.2}{LINES\\2974 - 2993}
\docsh{Lti}{1204}{150.3}{19}{8.2}{LINES\\2995 - 3002}
\node[dia={21.3}{21.3}] (lrady) at (1204,176) {\dt{lrady}};
\vc{cfourb}{savg}\vc{savg}{dojs}
\draw[ar] (dojs.east) -- (cfivea.west);
\vc{dojs}{lrad}
\coordinate (fsfree) at (1050.3,116.4);
\draw[ar] (fsfree) -- (fesft.north);
\vc{fesft}{sheat}
\draw (sheat.south) -- (1050.4,172.4) -- (1012.1,172.4);
\draw[ar] (1012.1,1163) -- (1012.1,85.9) -- (dojs.west);
\coordinate (lhfree) at (1204,116.4);
\draw[ar] (lhfree) -- (Lth.north);
\vc{Lth}{Lti}\vc{Lti}{lrady}
\coordinate (lyfree) at (1204,191.6);
\draw (lrady.south) -- (lyfree);
\node[yn] at (1108.5,113.6) {NO};\node[yn] at (1138.4,113.6) {YES};
\node[yn] at (1217.9,173.3) {YES};\node[yn] at (1199.5,188.8) {NO};
% atmosphere
\node[bx={28.6}{4.6}] (atm) at (1267.6,177.1) {\dt{\hb{! Atmosphere}}};
\coordinate (atfree) at (1234.1,175.4);
\draw[ar] (atfree) -- (1234.1,170) -- (1267.6,170) -- (atm.north);
\node[bx={28.6}{4.6}] (izzA) at (1267.6,186.9) {\dt{izz}};
\node[dia={23.8}{18.3}] (nrcA) at (1267.6,201.9) {\dt{nradcoarse\_y\\== 2}};
\docsh{Ltj}{1267.6}{223.1}{19}{8.8}{LINES\\3029 - 3047}
\docsh{Ltk}{1296.3}{223.1}{19}{8.8}{LINES\\3009 - 3026}
\docsh{Ltl}{1267.6}{243.1}{19}{8.3}{LINES\\3048 - 3066}
\node[bx={28.6}{7.9}] (trA) at (1267.6,263.8) {\dt{\hb{! Treatment at the}\\\hb{eastern boundary}}};
\node[dia={23.8}{18.5}] (ieA) at (1267.6,282) {\dt{iendpar > iend}};
\node[bx={12}{8}] (ipzA) at (1299.8,291.4) {\dt{i,\\izz}};
\node[dia={23.8}{19}] (nrcB) at (1299.8,314) {\dt{nradcoarse\_y\\== 2}};
\docsh{Ltm}{1299.8}{340}{19.2}{9.6}{LINES\\3090 - 3105}
\docsh{Ltn}{1325.2}{340}{19.2}{9.6}{LINES\\3073 - 3088}
\docsh{Lto}{1299.8}{359.3}{19.2}{9.4}{LINES\\3107 - 3123}
\vc{atm}{izzA}\vc{izzA}{nrcA}\vc{nrcA}{Ltj}
\draw[ar] (nrcA.east) -| (Ltk.north);
\draw (Ltk.south) |- (1267.6,232);
\vc{Ltj}{Ltl}\vc{Ltl}{trA}\vc{trA}{ieA}
\draw[ar] (ieA.east) -| (ipzA.north);
\vc{ipzA}{nrcB}\vc{nrcB}{Ltm}
\draw[ar] (nrcB.east) -| (Ltn.north);
\draw (Ltn.south) |- (1299.8,350);
\vc{Ltm}{Lto}
\draw (Lto.south) -- (1299.8,367.8) -- (1267.5,367.8);
\node[yn] at (1282.6,199.2) {YES};\node[yn] at (1263,213.5) {NO};
\node[yn] at (1282.6,279.6) {YES};\node[yn] at (1263,294.5) {NO};
\node[yn] at (1295.2,325.5) {NO};
% surface
\node[bx={28.7}{4.9}] (surf) at (1267.5,375.4) {\dt{\hb{! Surface}}};
\vc{ieA}{surf}
\node[bx={28.7}{4.9}] (izzB) at (1267.5,384.1) {\dt{izz}};
\node[dia={24}{19.2}] (nrcC) at (1267.5,402.4) {\dt{nradcoarse\_y\\== 2}};
\node[dia={14.2}{14.1}] (nA) at (1267.5,424.5) {\dt{n = 1, izz}};
\node[rbx={13.5}{21.5}] (rnA) at (1267.5,452.4) {\dt{i\\zti\_rn\\zalso\_rn\\zalth\_rn\\zapre\_rn\\zsmu0\_rn}};
\node[dia={14.2}{14.1}] (nB) at (1316.4,424.5) {\dt{n = 1, izz}};
\node[rbx={13.5}{21.5}] (rnB) at (1316.4,452.4) {\dt{i\\zalso\_rn\\zalth\_rn\\zapre\_rn\\zsmu0\_rn}};
\node[dia={13.8}{14.3}] (nC) at (1289.1,492.7) {\dt{n = 1, izz}};
\node[rbx={13.5}{21.5}] (rnC) at (1289.1,519.7) {\dt{zti\_rn\\zalso\_rn\\zalth\_rn\\zapre\_rn\\zsmu0\_rn}};
\node[bx={28.7}{8.3}] (trB) at (1267.5,547.9) {\dt{\hb{! Treatment at the}\\\hb{eastern boundary}}};
\node[dia={24}{19.2}] (ieB) at (1267.5,569.5) {\dt{iendpar > iend}};
\node[bx={12.1}{8.7}] (ipzB) at (1294.1,580.9) {\dt{i,\\izz}};
\node[dia={23.8}{19}] (nrcD) at (1294.1,602.9) {\dt{nradcoarse\_y\\== 2}};
\node[rbx={13.7}{21.3}] (rnD) at (1294.1,627.5) {\dt{zti\_rn\\zalso\_rn\\zalth\_rn\\zapre\_rn\\zsmu0\_rn}};
\node[rbx={13.7}{21.3}] (rnE) at (1323.5,627.5) {\dt{zti\_rn\\zalso\_rn\\zalth\_rn\\zapre\_rn\\zsmu0\_rn}};
\node[rbx={13.7}{21.5}] (rnF) at (1309,660.5) {\dt{zti\_rn\\zalso\_rn\\zalth\_rn\\zapre\_rn\\zsmu0\_rn}};
\vc{surf}{izzB}\vc{izzB}{nrcC}\vc{nrcC}{nA}
\draw[ar] (nrcC.east) -| (nB.north);
\vc{nA}{rnA}
\draw[ar] (rnA.south) -- (1267.5,467.8) -- (1255.6,467.8) -- (1255.6,424.5) -- (nA.west);
\draw[ar] (nA.east) -- (1289.1,424.5) -- (nC.north);
\vc{nB}{rnB}
\draw[ar] (rnB.south) -- (1316.4,467.8) -- (1304.6,467.8) -- (1304.6,424.5) -- (nB.west);
\draw (nB.east) -- (1328.3,424.5) -- (1328.3,475.5) -- (1289.1,475.5);
\vc{nC}{rnC}
\draw[ar] (rnC.south) -- (1289.1,535.1) -- (1277,535.1) -- (1277,492.7) -- (nC.west);
\draw[ar] (nC.east) -- (1308.1,492.7) -- (1308.1,540.1) -- (1267.5,540.1) -- (trB.north);
\vc{trB}{ieB}
\draw[ar] (ieB.east) -| (ipzB.north);
\vc{ipzB}{nrcD}\vc{nrcD}{rnD}
\draw[ar] (nrcD.east) -| (rnE.north);
\draw (rnD.south) -- (1294.1,644.3) -- (1323.5,644.3) -- (rnE.south);
\draw[ar] (1309,644.3) -- (rnF.north);
\draw (ieB.south) -- (1267.5,690);
\node[yn] at (1282.5,399.8) {YES};\node[yn] at (1262.9,414.3) {NO};
\node[yn] at (1262.9,581.4) {NO};
\node[yn] at (1314.1,599.5) {YES};\node[yn] at (1289.3,614.2) {NO};
%================ column 6 : section 8 (zenith angle part)
\node[dia={28}{21.3}] (npxB) at (1470.5,333.6) {\dt{(nprocx > 1)\\.AND.\\(lreproduce)}};
\node[bx={14.4}{9.6}] (istdB) at (1513.3,345.2) {\dt{i\_std\\i\_etd}};
\docsh{Ltp}{1513.3}{359.4}{38.2}{9.2}{LINES\\3662 - 3679}
\docsh{Ltq}{1441.8}{359.4}{38.2}{9.2}{LINES\\3723 - 3736}
\node[dia={25}{27.1}] (jsh) at (1441.7,389) {\dt{js = jstartradheat,\\jendradheat}};
\docsh{Ltr}{1441.7}{418.3}{19.2}{9.1}{LINES\\3740 - 3749}
\node[dia={13.8}{16.6}] (iH) at (1441.7,435) {\dt{i = 1,\\ie\_tot}};
\node[rbx={19.2}{11.7}] (rH) at (1441.7,457.1) {\dt{zcosphi\\zcosthi\\zsmu0(i, js)}};
\docsh{Lts}{1441.7}{482.1}{19.2}{9.4}{LINES\\3757 - 3769}
\node[rdia={14.2}{13.6}] (iR) at (1513.3,380.4) {\dt{i = 1,\\ie\_tot}};
\node[bx={19.2}{11.9}] (zcR) at (1513.3,399.2) {\dt{zcosphi\\zcosthi\\zsmu0\_loc}};
\node[dia={22.5}{21.3}] (istdR) at (1513.3,423) {\dt{(i >= i\_std)\\.AND. (i <=\\i\_etd)}};
\node[rbx={24}{30.9}] (rR) at (1544.4,447) {\dt{i\_ld\\\srb{zsmu0(i\_ld,js)}\\sun\_el(i\_ld,js)\\x1\\x2\\phi\_s\\sun\_azi\\sun\_el}};
\node[rbx={38.3}{14.5}] (calc) at (1475.2,510.8) {\dt{\sred{Calculate solar fluxes and}\\\sred{heating rates based on}\\\sred{actual zenith angle}\\\tb{CODE LINES: 3776 - 3935}}};
\docsh{Ltt}{1475.2}{532.6}{19}{9.4}{LINES\\3780 - 3817}
\node[dia={21.3}{21.3}] (lradB) at (1475.2,554.3) {\dt{lradave}};
\node[rbx={33.6}{21.5}] (allocR) at (1506.2,570.5) {\dt{ALLOCATE\\zsohr\\zsobs\\zsobt\\zpabs}};
\node[rbx={33.6}{15.5}] (zsoR) at (1506.2,596.7) {\dt{zsohr\\zsobs\\zsobt\\zpabs}};
\node[bx={38.2}{11.7}] (sohr) at (1506.2,620) {\dt{sohr(i, js,k)\\\tb{CODE LINES 3853 - 3863}}};
\node[rbx={38.2}{37.7}] (sobs) at (1506.2,651.2) {\dt{sobs(i,js)\\sobt(i,js)\\\srb{pabs(i,js)}\\swdir\_s(i,js)\\swdir\_sn(i,js)\\swdir\_sno(i,js)\\swdifd\_s(i,js)\\swdifu\_s(i,js)\\\tb{CODE LINES 3865 - 3907}}};
\draw[ar] (npxB.south) -- (1470.5,349.7) -- (1441.8,349.7) -- (Ltq.north);
\draw[ar] (npxB.east) -| (istdB.north);
\vc{istdB}{Ltp}\vc{Ltp}{iR}\vc{Ltq}{jsh}\vc{jsh}{Ltr}\vc{Ltr}{iH}\vc{iH}{rH}
\draw[ar] (rH.south) -- (1441.7,467.8) -- (1429.8,467.8) -- (1429.8,435) -- (iH.west);
\draw[ar] (iH.east) -- (1460.9,435) -- (1460.9,473.1) -- (1441.7,473.1) -- (Lts.north);
\draw[ar] (Lts.south) -- (1441.7,492.3) -- (1413.1,492.3) -- (1413.1,389) -- (jsh.west);
\draw[ar] (jsh.east) -- (1475.2,389) -- (calc.north);
\vc{iR}{zcR}\vc{zcR}{istdR}
\draw[ar] (istdR.east) -| (rR.north);
\draw (istdR.south) -- (1513.3,479.1);
\draw[ar] (rR.south) -- (1544.4,479.1) -- (1494.2,479.1) -- (1494.2,380.4) -- (iR.west);
\draw (iR.east) -- (1565.9,380.4) -- (1565.9,492.3) -- (1475.2,492.3);
\vc{calc}{Ltt}\vc{Ltt}{lradB}
\draw[ar] (lradB.east) -| (allocR.north);
\vc{allocR}{zsoR}\vc{zsoR}{sohr}\vc{sohr}{sobs}
\draw (lradB.south) -- (1475.2,690);
\node[yn] at (1465.9,346.5) {NO};
\node[yn] at (1528,420.7) {YES};\node[yn] at (1508.8,436) {NO};
\node[yn] at (1489.2,551.8) {YES};\node[yn] at (1470.5,567.3) {NO};
\end{tikzpicture}
\end{document}
